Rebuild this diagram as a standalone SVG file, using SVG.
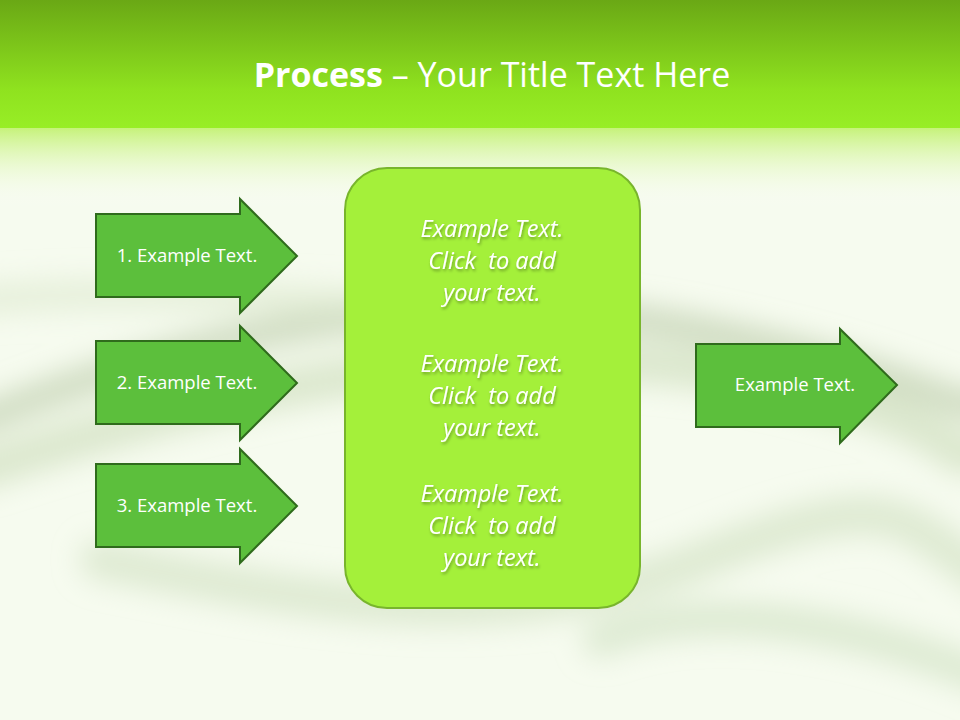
<svg xmlns="http://www.w3.org/2000/svg" width="960" height="720" viewBox="0 0 960 720">
<defs>
<linearGradient id="top" x1="0" y1="0" x2="0" y2="1">
<stop offset="0" stop-color="#6aa815"/><stop offset="0.7" stop-color="#8fe21f"/><stop offset="1" stop-color="#98ee26"/>
</linearGradient>
<linearGradient id="fade" x1="0" y1="0" x2="0" y2="1">
<stop offset="0" stop-color="#c6f27a"/><stop offset="1" stop-color="#ffffff" stop-opacity="0"/>
</linearGradient>
<filter id="blur" x="-20%" y="-20%" width="140%" height="140%"><feGaussianBlur stdDeviation="14"/></filter>
<filter id="sh" x="-10%" y="-10%" width="130%" height="130%"><feDropShadow dx="1" dy="2" stdDeviation="1.5" flood-color="#000" flood-opacity="0.35"/></filter>
<style>
.arr{fill:#5cbf3c;stroke:#2f6b1c;stroke-width:2}
.lbl{font-family:"Open Sans","DejaVu Sans",sans-serif;font-size:18.5px;fill:#fff;text-anchor:middle}
.it{font-family:"Open Sans","DejaVu Sans",sans-serif;font-size:23.5px;font-style:italic;fill:#fff;text-anchor:middle;filter:url(#sh)}
</style>
</defs>
<rect width="960" height="720" fill="#f6fbef"/>
<g filter="url(#blur)" fill="none" stroke-linecap="round">
<path d="M-20 420 C200 330 450 280 700 330 S960 420 990 400" stroke="#b5c7a4" stroke-width="30" opacity="0.6"/>
<path d="M-20 470 C250 380 520 330 760 380 S930 470 990 450" stroke="#c9dbb7" stroke-width="40" opacity="0.6"/>
<path d="M100 560 C300 600 500 640 700 560 S900 520 990 580" stroke="#cfe0c0" stroke-width="40" opacity="0.6"/>
<path d="M-20 300 C200 280 400 320 600 300" stroke="#dbe8cc" stroke-width="30" opacity="0.6"/>
<path d="M600 640 C700 600 850 620 990 680" stroke="#cddfbf" stroke-width="35" opacity="0.6"/>
</g>
<rect y="128" width="960" height="80" fill="url(#fade)"/>
<rect width="960" height="128" fill="url(#top)"/>
<text x="492" y="87" font-family="'Open Sans','DejaVu Sans',sans-serif" font-size="34" fill="#fff" text-anchor="middle"><tspan font-weight="bold">Process</tspan> – Your Title Text Here</text>
<g id="connectors"></g>
<g id="a1"><path class="arr" d="M96 214H240V199L297 256L240 313V297H96Z"/><text class="lbl" x="187" y="262">1. Example Text.</text></g>
<g id="a2"><path class="arr" d="M96 341H240V326L297 383L240 440V424H96Z"/><text class="lbl" x="187" y="389">2. Example Text.</text></g>
<g id="a3"><path class="arr" d="M96 464H240V449L297 506L240 563V547H96Z"/><text class="lbl" x="187" y="512">3. Example Text.</text></g>
<g id="center"><rect x="345" y="168" width="295" height="440" rx="42" fill="#a4f03a" stroke="#78b52c" stroke-width="2"/>
<text class="it" x="492" y="237">Example Text.</text><text class="it" x="492" y="269">Click&#160; to add</text><text class="it" x="492" y="301">your text.</text>
<text class="it" x="492" y="372">Example Text.</text><text class="it" x="492" y="404">Click&#160; to add</text><text class="it" x="492" y="436">your text.</text>
<text class="it" x="492" y="502">Example Text.</text><text class="it" x="492" y="534">Click&#160; to add</text><text class="it" x="492" y="566">your text.</text></g>
<g id="out"><path class="arr" d="M696 344H840V329L897 385L840 443V427H696Z"/><text class="lbl" x="795" y="391">Example Text.</text></g>
</svg>
